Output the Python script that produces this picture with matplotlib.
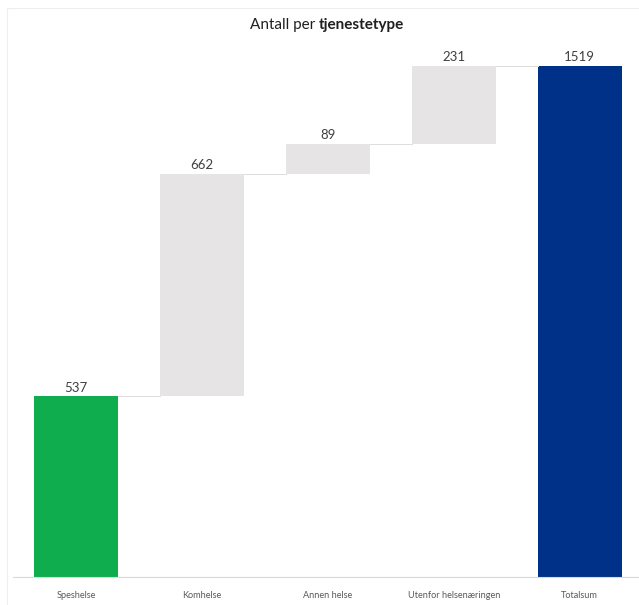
import numpy as np
import matplotlib.pyplot as plt
from matplotlib.patches import Rectangle

categories = ['Speshelse', 'Komhelse', 'Annen helse', 'Utenfor helsenæringen', 'Totalsum']
values = [537, 662, 89, 231, 1519]
kinds = ['start', 'step', 'step', 'step', 'total']

colors = {'start': '#10AD4E', 'step': '#E7E4E5', 'total': '#003189'}

plt.rcParams['font.family'] = ['Lato', 'DejaVu Sans']

fig = plt.figure(figsize=(6.39, 6.05), dpi=100)
ax = fig.add_axes([13 / 639, 1 - 577 / 605, 1 - 13 / 639, (577 - 45) / 605])

# waterfall bottoms
bottoms = []
running = 0
for v, k in zip(values, kinds):
    if k == 'step':
        bottoms.append(running)
        running += v
    else:
        bottoms.append(0)
        running = v if k == 'start' else running
tops = [b + v for b, v in zip(bottoms, values)]

x = np.arange(len(categories))
w = 0.667
ax.bar(x, values, width=w, bottom=bottoms, color=[colors[k] for k in kinds])

# connector lines
for i in range(len(x) - 1):
    ax.plot([x[i] + w / 2, x[i + 1] - w / 2], [tops[i], tops[i]],
            color='#DDDDDD', lw=0.7)

for xi, t, v in zip(x, tops, values):
    ax.text(xi, t + 8, str(v), ha='center', va='bottom', fontsize=9.5, color='#404040')

ax.set_xlim(-0.5, 4.47)
ax.set_ylim(0, 1581)
ax.set_xticks(x)
ax.set_xticklabels(categories, fontsize=6.6, color='#595959')
ax.tick_params(axis='x', length=0, pad=10)
ax.set_yticks([])
for s in ['top', 'right', 'left']:
    ax.spines[s].set_visible(False)
ax.spines['bottom'].set_color('#D9D9D9')
ax.spines['bottom'].set_linewidth(0.8)

# title with bold part
t1 = fig.text(0.5, 1 - 25 / 605, 'Antall per ', fontsize=11, ha='right', va='center', color='#202020')
t2 = fig.text(0.5, 1 - 25 / 605, 'tjenestetype', fontsize=11, fontweight='bold', ha='left', va='center', color='#202020')
fig.canvas.draw()
r = fig.canvas.get_renderer()
w1 = t1.get_window_extent(r).width
w2 = t2.get_window_extent(r).width
cx = 327
t1.set_x((cx - (w1 + w2) / 2 + w1) / 639)
t2.set_x((cx - (w1 + w2) / 2 + w1) / 639)

# faint outer frame
fig.patches.append(Rectangle((7 / 639, -0.01), 1, 1 - 8 / 605 + 0.01, transform=fig.transFigure,
                             fill=False, edgecolor='#EEEEEE', lw=0.8))

fig.savefig('out.png', dpi=100)
